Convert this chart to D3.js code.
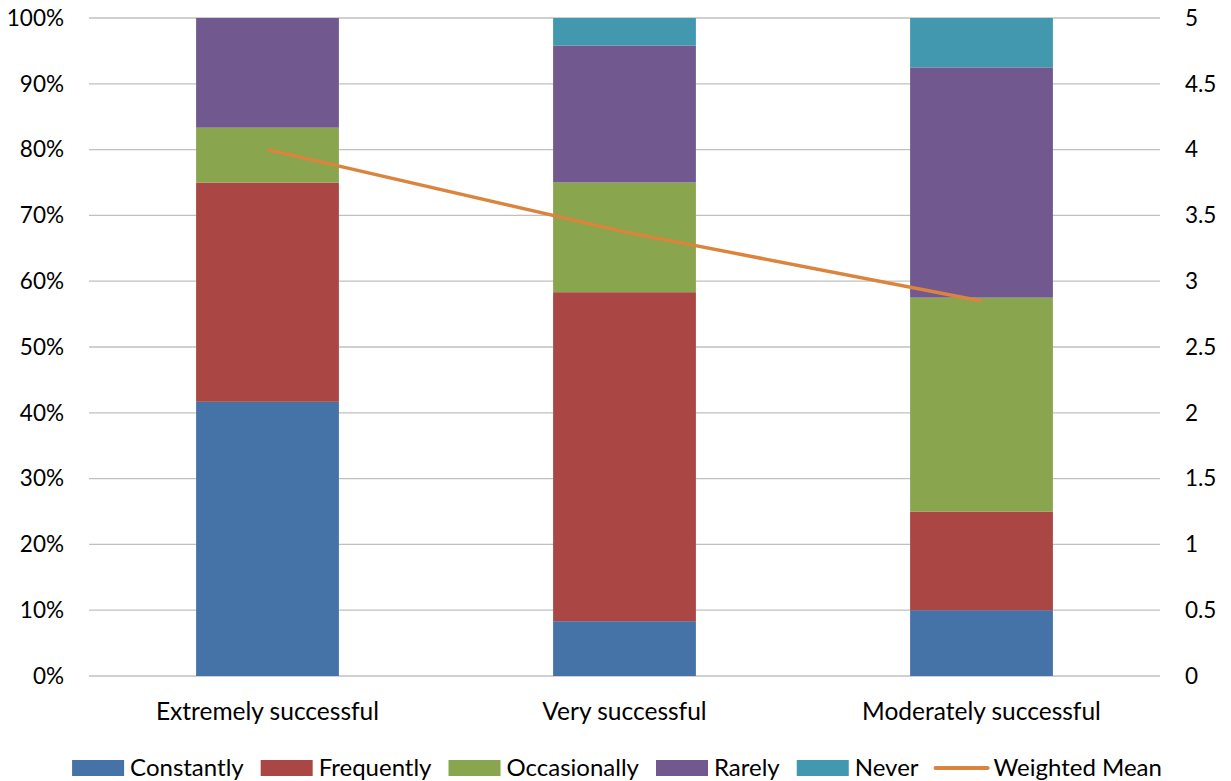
<!DOCTYPE html>
<html>
<head>
<meta charset="utf-8">
<script src="https://cdn.jsdelivr.net/npm/d3@7"></script>
<style>
  html, body { margin: 0; padding: 0; background: #fff; }
  svg text { font-family: Lato, "Open Sans", sans-serif; fill: #000; }
</style>
</head>
<body>
<svg id="chart" width="1231" height="781"></svg>
<script>
// Categories and stacked series (percent of respondents)
const categories = ["Extremely successful", "Very successful", "Moderately successful"];
const seriesNames = ["Constantly", "Frequently", "Occasionally", "Rarely", "Never"];
const constantly   = [41.67, 8.33, 10.0];
const frequently   = [33.33, 50.0, 15.0];
const occasionally = [8.33, 16.67, 32.5];
const rarely       = [16.67, 20.83, 35.0];
const never        = [0, 4.17, 7.5];
const weightedMean = [4.0, 3.375, 2.85];

const leftTicks  = [0, 10, 20, 30, 40, 50, 60, 70, 80, 90, 100];
const rightTicks = [0, 0.5, 1, 1.5, 2, 2.5, 3, 3.5, 4, 4.5, 5];

const colors = ["#4572A7", "#AA4643", "#89A54E", "#71588F", "#4198AF"];
const lineColor = "#DB843D";

const svg = d3.select("#chart");
const plot = { left: 89, right: 1160, top: 18, bottom: 676 };

const x = d3.scaleBand().domain(categories).range([plot.left, plot.right]).paddingInner(0.6).paddingOuter(0.3);
const y = d3.scaleLinear().domain([0, 100]).range([plot.bottom, plot.top]);
const y2 = d3.scaleLinear().domain([0, 5]).range([plot.bottom, plot.top]);

// Gridlines
svg.append("g").selectAll("line").data(leftTicks).join("line")
  .attr("x1", plot.left).attr("x2", plot.right)
  .attr("y1", d => y(d)).attr("y2", d => y(d))
  .attr("stroke", "#c0c0c0").attr("stroke-width", 1.3);

// Left axis labels
const leftAxis = d3.axisLeft(y).tickValues(leftTicks).tickFormat(d => d + "%").tickSize(0).tickPadding(0);
const gl = svg.append("g").attr("transform", `translate(${64},0)`).call(leftAxis);
gl.select(".domain").remove();
gl.selectAll("text").attr("font-size", 22.5).attr("font-family", "Lato, 'Open Sans', sans-serif").attr("fill", "#000");

// Right axis labels
const rightAxis = d3.axisRight(y2).tickValues(rightTicks).tickFormat(d => String(d)).tickSize(0).tickPadding(0);
const gr = svg.append("g").attr("transform", `translate(${1185},0)`).call(rightAxis);
gr.select(".domain").remove();
gr.selectAll("text").attr("font-size", 22.5).attr("font-family", "Lato, 'Open Sans', sans-serif").attr("fill", "#000");

// Stacked bars
const table = categories.map((c, i) => ({
  category: c,
  Constantly: constantly[i], Frequently: frequently[i], Occasionally: occasionally[i],
  Rarely: rarely[i], Never: never[i]
}));
const stacked = d3.stack().keys(seriesNames)(table);
svg.append("g").selectAll("g").data(stacked).join("g")
  .attr("fill", (d, i) => colors[i])
  .selectAll("rect").data(d => d).join("rect")
  .attr("x", d => x(d.data.category))
  .attr("width", x.bandwidth())
  .attr("y", d => y(d[1]))
  .attr("height", d => y(d[0]) - y(d[1]));

// Category labels
svg.append("g").selectAll("text").data(categories).join("text")
  .attr("x", d => x(d) + x.bandwidth() / 2)
  .attr("y", 720)
  .attr("text-anchor", "middle")
  .attr("font-size", 24.5)
  .text(d => d);

// Weighted mean line on secondary axis
const line = d3.line()
  .x((d, i) => x(categories[i]) + x.bandwidth() / 2)
  .y(d => y2(d));
svg.append("path").datum(weightedMean)
  .attr("d", line)
  .attr("fill", "none")
  .attr("stroke", lineColor)
  .attr("stroke-width", 3.5);

// Legend
const legendItems = seriesNames.map((n, i) => ({ name: n, color: colors[i], type: "rect" }))
  .concat([{ name: "Weighted Mean", color: lineColor, type: "line" }]);
const legend = svg.append("g");
let cx = 0;
const swW = 52, gapText = 6, gapItem = 17, ly = 768;
legendItems.forEach(item => {
  const g = legend.append("g").attr("transform", `translate(${cx},0)`);
  if (item.type === "rect") {
    g.append("rect").attr("x", 0).attr("y", ly - 8).attr("width", swW).attr("height", 16).attr("fill", item.color);
  } else {
    g.append("line").attr("x1", 0).attr("x2", swW).attr("y1", ly).attr("y2", ly)
      .attr("stroke", item.color).attr("stroke-width", 4).attr("stroke-linecap", "round");
  }
  const t = g.append("text").attr("x", swW + gapText).attr("y", ly + 8).attr("font-size", 24).text(item.name);
  cx += swW + gapText + t.node().getComputedTextLength() + gapItem;
});
const totalW = cx - gapItem;
legend.attr("transform", `translate(${617 - totalW / 2},0)`);
</script>
</body>
</html>
